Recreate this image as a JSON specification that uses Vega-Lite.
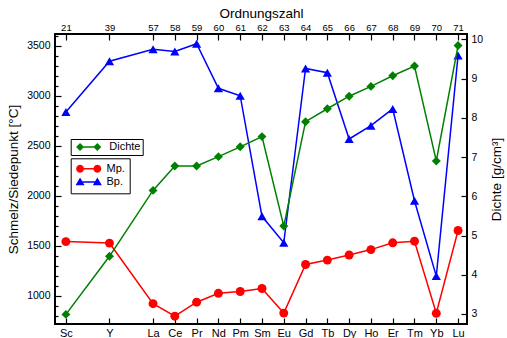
{
  "$schema": "https://vega.github.io/schema/vega-lite/v6.json",
  "width": 412,
  "height": 290,
  "autosize": "none",
  "padding": {"left": 55, "top": 34, "right": 40, "bottom": 14},
  "data": {
    "values": [
      {"el": "Sc", "idx": 0, "z": 21, "Mp": 1541, "Bp": 2836, "Dichte": 2.99},
      {"el": "Y", "idx": 2, "z": 39, "Mp": 1526, "Bp": 3345, "Dichte": 4.47},
      {"el": "La", "idx": 4, "z": 57, "Mp": 920, "Bp": 3464, "Dichte": 6.15},
      {"el": "Ce", "idx": 5, "z": 58, "Mp": 795, "Bp": 3443, "Dichte": 6.77},
      {"el": "Pr", "idx": 6, "z": 59, "Mp": 935, "Bp": 3520, "Dichte": 6.77},
      {"el": "Nd", "idx": 7, "z": 60, "Mp": 1024, "Bp": 3074, "Dichte": 7.01},
      {"el": "Pm", "idx": 8, "z": 61, "Mp": 1042, "Bp": 3000, "Dichte": 7.26},
      {"el": "Sm", "idx": 9, "z": 62, "Mp": 1072, "Bp": 1794, "Dichte": 7.52},
      {"el": "Eu", "idx": 10, "z": 63, "Mp": 826, "Bp": 1529, "Dichte": 5.24},
      {"el": "Gd", "idx": 11, "z": 64, "Mp": 1312, "Bp": 3273, "Dichte": 7.90},
      {"el": "Tb", "idx": 12, "z": 65, "Mp": 1356, "Bp": 3230, "Dichte": 8.23},
      {"el": "Dy", "idx": 13, "z": 66, "Mp": 1407, "Bp": 2567, "Dichte": 8.55},
      {"el": "Ho", "idx": 14, "z": 67, "Mp": 1461, "Bp": 2700, "Dichte": 8.80},
      {"el": "Er", "idx": 15, "z": 68, "Mp": 1529, "Bp": 2868, "Dichte": 9.07},
      {"el": "Tm", "idx": 16, "z": 69, "Mp": 1545, "Bp": 1950, "Dichte": 9.32},
      {"el": "Yb", "idx": 17, "z": 70, "Mp": 824, "Bp": 1196, "Dichte": 6.90},
      {"el": "Lu", "idx": 18, "z": 71, "Mp": 1652, "Bp": 3402, "Dichte": 9.84}
    ]
  },
  "layer": [
    {
      "transform": [{"fold": ["Mp", "Bp"], "as": ["series", "temp"]}],
      "encoding": {
        "x": {
          "field": "idx", "type": "quantitative",
          "scale": {"domain": [-0.5, 18.41], "nice": false, "zero": false},
          "axis": {
            "orient": "bottom", "title": null,
            "values": [0, 2, 4, 5, 6, 7, 8, 9, 10, 11, 12, 13, 14, 15, 16, 17, 18],
            "labelExpr": "['Sc','','Y','','La','Ce','Pr','Nd','Pm','Sm','Eu','Gd','Tb','Dy','Ho','Er','Tm','Yb','Lu'][datum.value]",
            "tickSize": -6, "labelPadding": 9, "labelFontSize": 11, "labelBound": false, "labelOverlap": false, "labelFlush": false
          }
        },
        "y": {
          "field": "temp", "type": "quantitative",
          "scale": {"domain": [717, 3617], "nice": false, "zero": false},
          "axis": {
            "orient": "left",
            "title": "Schmelz/Siedepunkt [°C]",
            "values": [800, 900, 1000, 1100, 1200, 1300, 1400, 1500, 1600, 1700, 1800, 1900, 2000, 2100, 2200, 2300, 2400, 2500, 2600, 2700, 2800, 2900, 3000, 3100, 3200, 3300, 3400, 3500, 3600],
            "format": "d",
            "labelExpr": "datum.value % 500 === 0 ? datum.label : ''",
            "tickSize": {"condition": {"test": "datum.value % 500 === 0", "value": -6}, "value": -3},
            "labelPadding": 11, "labelOverlap": false, "labelBound": false, "labelFlush": false,
            "titlePadding": 6
          }
        },
        "color": {
          "field": "series", "type": "nominal",
          "scale": {"domain": ["Mp", "Bp"], "range": ["#ff0000", "#0000ff"]},
          "legend": {
            "orient": "none", "legendX": 15.7, "legendY": 124.3, "title": null,
            "padding": 4.5, "strokeColor": "black", "fillColor": "white",
            "symbolSize": 576, "clipHeight": 12, "rowPadding": 1.2,
            "symbolOffset": 1.5, "labelOffset": 5.8, "labelFontSize": 11,
            "labelExpr": "datum.label + '.'",
            "encode": {
              "symbols": {
                "update": {
                  "shape": {"signal": "datum.value === 'Mp' ? 'M-0.39,0L-0.434,0.165L-0.555,0.286L-0.72,0.33L-0.885,0.286L-1.006,0.165L-1.05,0L-1.006,-0.165L-0.885,-0.286L-0.72,-0.33L-0.555,-0.286L-0.434,-0.165ZM1.05,0L1.006,0.165L0.885,0.286L0.72,0.33L0.555,0.286L0.434,0.165L0.39,0L0.434,-0.165L0.555,-0.286L0.72,-0.33L0.885,-0.286L1.006,-0.165ZM-0.72,-0.06L0.72,-0.06L0.72,0.06L-0.72,0.06Z' : 'M-1.095,0.28L-0.72,-0.38L-0.345,0.28ZM0.345,0.28L0.72,-0.38L1.095,0.28ZM-0.72,-0.06L0.72,-0.06L0.72,0.06L-0.72,0.06Z'"},
                  "fill": {"signal": "datum.value === 'Mp' ? '#ff0000' : '#0000ff'"},
                  "fillOpacity": {"value": 1},
                  "strokeWidth": {"value": 0},
                  "opacity": {"value": 1}
                }
              }
            }
          }
        }
      },
      "layer": [
        {"mark": {"type": "line", "strokeWidth": 1.5}},
        {
          "transform": [{"filter": "datum.series === 'Mp'"}],
          "mark": {"type": "point", "filled": true, "opacity": 1, "size": 80, "shape": "circle"}
        },
        {
          "transform": [{"filter": "datum.series === 'Bp'"}],
          "mark": {"type": "point", "filled": true, "opacity": 1, "size": 85, "shape": "triangle-up"}
        }
      ]
    },
    {
      "transform": [{"fold": ["Dichte"], "as": ["series", "dens"]}],
      "encoding": {
        "x": {
          "field": "idx", "type": "quantitative",
          "scale": {"domain": [-0.5, 18.41], "nice": false, "zero": false},
          "axis": {
            "orient": "top", "title": "Ordnungszahl", "titleFontSize": 13.5, "titlePadding": 2,
            "values": [0, 2, 4, 5, 6, 7, 8, 9, 10, 11, 12, 13, 14, 15, 16, 17, 18],
            "labelExpr": "['21','','39','','57','58','59','60','61','62','63','64','65','66','67','68','69','70','71'][datum.value]",
            "tickSize": -6, "labelPadding": 8, "labelFontSize": 9.5, "labelBound": false, "labelOverlap": false, "labelFlush": false
          }
        },
        "y": {
          "field": "dens", "type": "quantitative",
          "scale": {"domain": [2.745, 10.135], "nice": false, "zero": false},
          "axis": {
            "orient": "right",
            "title": "Dichte [g/cm³]",
            "titleAngle": -90,
            "format": "d",
            "values": [3, 3.5, 4, 4.5, 5, 5.5, 6, 6.5, 7, 7.5, 8, 8.5, 9, 9.5, 10],
            "labelExpr": "datum.value % 1 === 0 ? datum.label : ''",
            "tickSize": {"condition": {"test": "datum.value % 1 === 0", "value": -6}, "value": -3},
            "labelPadding": 10, "labelOverlap": false, "labelBound": false, "labelFlush": false,
            "titlePadding": 21
          }
        },
        "color": {
          "field": "series", "type": "nominal",
          "scale": {"domain": ["Dichte"], "range": ["#008000"]},
          "legend": {
            "orient": "none", "legendX": 15.7, "legendY": 105, "title": null,
            "padding": 2, "strokeColor": "black", "fillColor": "white",
            "symbolSize": 576, "clipHeight": 12,
            "symbolOffset": 4, "labelOffset": 8.6, "labelFontSize": 11,
            "encode": {
              "symbols": {
                "update": {
                  "shape": {"value": "M-1.05,0L-0.72,-0.33L-0.39,0L-0.72,0.33ZM0.39,0L0.72,-0.33L1.05,0L0.72,0.33ZM-0.72,-0.06L0.72,-0.06L0.72,0.06L-0.72,0.06Z"},
                  "fill": {"value": "#008000"},
                  "fillOpacity": {"value": 1},
                  "strokeWidth": {"value": 0},
                  "opacity": {"value": 1}
                }
              }
            }
          }
        }
      },
      "layer": [
        {"mark": {"type": "line", "strokeWidth": 1.5}},
        {"mark": {"type": "point", "filled": true, "opacity": 1, "size": 80, "shape": "diamond"}}
      ]
    }
  ],
  "resolve": {
    "scale": {"y": "independent", "color": "independent"},
    "axis": {"x": "independent"},
    "legend": {"color": "independent"}
  },
  "config": {
    "font": "Liberation Sans",
    "view": {"stroke": "black", "strokeWidth": 2},
    "axis": {
      "domain": false, "grid": false,
      "labelFontSize": 10.5, "labelColor": "black",
      "titleFontSize": 13.5, "titleFontWeight": "normal", "titleColor": "black",
      "tickColor": "black", "tickWidth": 1.2
    },
    "legend": {"labelColor": "black", "labelFont": "Liberation Sans"}
  }
}
